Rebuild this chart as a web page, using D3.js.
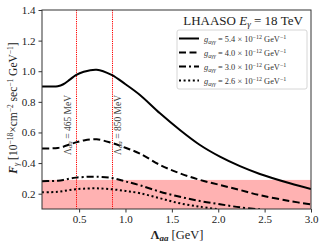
<!DOCTYPE html>
<html lang="en">
<head>
    <meta charset="UTF-8">
    <title>LHAASO flux</title>
    <script src="https://d3js.org/d3.v7.min.js"></script>
    <style>
        body { margin: 0; background: #fff; }
        text { font-family: "Liberation Serif", "DejaVu Serif", serif; }
    </style>
</head>
<body>
    <script>
        // data (Lambda in GeV, flux in 1e-18 units)
        let lambdaSolid = [0.1, 0.2, 0.27, 0.33, 0.4, 0.465, 0.55, 0.69, 0.85, 1.0, 1.156, 1.372, 1.587, 1.803, 2.018, 2.234, 2.449, 2.772, 3.0];
        let fluxSolid   = [0.9, 0.9, 0.902, 0.915, 0.945, 0.975, 0.997, 1.01, 0.976, 0.915, 0.845, 0.725, 0.616, 0.518, 0.442, 0.38, 0.329, 0.268, 0.23];

        let lambdaDashed = [0.1, 0.2, 0.27, 0.33, 0.4, 0.465, 0.55, 0.69, 0.85, 1.0, 1.156, 1.372, 1.587, 1.803, 2.018, 2.234, 2.449, 2.772, 3.0];
        let fluxDashed   = [0.495, 0.496, 0.499, 0.507, 0.522, 0.535, 0.548, 0.555, 0.532, 0.5, 0.462, 0.388, 0.333, 0.29, 0.257, 0.224, 0.19, 0.152, 0.13];

        let lambdaDashDot = [0.1, 0.2, 0.27, 0.33, 0.4, 0.465, 0.55, 0.69, 0.85, 1.0, 1.156, 1.372, 1.587, 1.803, 2.018, 2.234, 2.45];
        let fluxDashDot   = [0.282, 0.283, 0.285, 0.29, 0.299, 0.305, 0.309, 0.311, 0.303, 0.28, 0.255, 0.213, 0.18, 0.152, 0.131, 0.111, 0.098];

        let lambdaDotted = [0.1, 0.2, 0.27, 0.33, 0.4, 0.465, 0.55, 0.69, 0.85, 1.0, 1.156, 1.372, 1.587, 1.803, 2.0];
        let fluxDotted   = [0.209, 0.21, 0.212, 0.217, 0.224, 0.229, 0.233, 0.235, 0.229, 0.218, 0.203, 0.17, 0.137, 0.115, 0.098];

        let couplings = ["5.4", "4.0", "3.0", "2.6"];
        let dashes = [null, "7,3.5", "7,3,2,3", "2,2.6"];
        let markers = [0.465, 0.85];
        let markerLabels = ["465", "850"];
        let bandTop = 0.29;

        let xTicks = [0.5, 1.0, 1.5, 2.0, 2.5, 3.0];
        let yTicks = [0.2, 0.4, 0.6, 0.8, 1.0, 1.2, 1.4];

        const w = 324, h = 247;
        const mLeft = 42, mRight = 311, mTop = 10, mBottom = 209;

        const svg = d3.select('body').append('svg').attr('width', w).attr('height', h);

        const x = d3.scaleLinear().domain([0.1, 3.0]).range([mLeft, mRight]);
        const y = d3.scaleLinear().domain([0.1, 1.4]).range([mBottom, mTop]);

        svg.append('clipPath').attr('id', 'clip')
            .append('rect').attr('x', mLeft).attr('y', mTop)
            .attr('width', mRight - mLeft).attr('height', mBottom - mTop);

        const plot = svg.append('g').attr('clip-path', 'url(#clip)');

        // shaded band
        plot.append('rect')
            .attr('x', x(0.1)).attr('y', y(bandTop))
            .attr('width', x(3.0) - x(0.1)).attr('height', y(0.1) - y(bandTop))
            .style('fill', '#ff0000').style('fill-opacity', 0.3);

        // vertical markers
        plot.selectAll('line.mark').data(markers).enter().append('line')
            .attr('class', 'mark')
            .attr('x1', d => Math.round(x(d)) + 0.5).attr('x2', d => Math.round(x(d)) + 0.5)
            .attr('y1', mTop).attr('y2', mBottom)
            .style('stroke', '#ff0000').style('stroke-width', 1)
            .style('stroke-dasharray', '1.2,1');

        const series = [
            [lambdaSolid, fluxSolid],
            [lambdaDashed, fluxDashed],
            [lambdaDashDot, fluxDashDot],
            [lambdaDotted, fluxDotted]
        ];

        const line = d3.line().x(d => x(d[0])).y(d => y(d[1])).curve(d3.curveCatmullRom.alpha(0.5));

        series.forEach((s, i) => {
            let pts = s[0].map((v, j) => [v, s[1][j]]);
            plot.append('path').datum(pts)
                .attr('d', line)
                .style('fill', 'none').style('stroke', '#000')
                .style('stroke-width', 2)
                .style('stroke-dasharray', dashes[i]);
        });

        // marker labels
        let labX = [x(markers[0]) - 7, x(markers[1]) + 7.5];
        markerLabels.forEach((m, i) => {
            let t = svg.append('text')
                .attr('transform', `translate(${labX[i]},125) rotate(-90)`)
                .attr('text-anchor', 'middle').attr('dominant-baseline', 'middle')
                .style('font-size', '9.5px').style('fill', '#444');
            t.append('tspan').text('Λ');
            t.append('tspan').attr('baseline-shift', '-25%').style('font-size', '7px').style('font-style', 'italic').text('aa');
            t.append('tspan').text(' = ' + m + ' MeV');
        });

        // axes
        let xAxis = svg.append('g').attr('transform', `translate(0,${mBottom})`)
            .call(d3.axisBottom(x).tickValues(xTicks).tickFormat(d3.format('.1f')).tickSize(3.5).tickPadding(3));
        let yAxis = svg.append('g').attr('transform', `translate(${mLeft},0)`)
            .call(d3.axisLeft(y).tickValues(yTicks).tickFormat(d3.format('.1f')).tickSize(3.5).tickPadding(3));
        [xAxis, yAxis].forEach(a => {
            a.select('.domain').remove();
            a.selectAll('text').style('font-size', '11px').style('fill', '#222')
                .style('font-family', '"Liberation Serif", serif');
            a.selectAll('line').style('stroke', '#333');
        });

        svg.append('rect').attr('x', mLeft).attr('y', mTop)
            .attr('width', mRight - mLeft).attr('height', mBottom - mTop)
            .style('fill', 'none').style('stroke', '#333').style('stroke-width', 1);

        // x label
        let xl = svg.append('text').attr('x', 177).attr('y', 239)
            .attr('text-anchor', 'middle').style('font-size', '12.5px').style('fill', '#222');
        xl.append('tspan').style('font-weight', 'bold').text('Λ');
        xl.append('tspan').attr('baseline-shift', '-25%').style('font-size', '9px')
            .style('font-weight', 'bold').style('font-style', 'italic').text('aa');
        xl.append('tspan').text(' [GeV]');

        // y label
        let yl = svg.append('text').attr('transform', 'translate(17,108) rotate(-90)')
            .attr('text-anchor', 'middle').style('font-size', '11.5px').style('fill', '#222');
        yl.append('tspan').style('font-weight', 'bold').style('font-style', 'italic').text('F');
        yl.append('tspan').attr('baseline-shift', '-25%').style('font-size', '8px').style('font-style', 'italic').text('γ');
        yl.append('tspan').text(' [10');
        yl.append('tspan').attr('baseline-shift', 'super').style('font-size', '7.5px').text('−18');
        yl.append('tspan').text('×cm');
        yl.append('tspan').attr('baseline-shift', 'super').style('font-size', '7.5px').text('−2');
        yl.append('tspan').text(' sec');
        yl.append('tspan').attr('baseline-shift', 'super').style('font-size', '7.5px').text('−1');
        yl.append('tspan').text(' GeV');
        yl.append('tspan').attr('baseline-shift', 'super').style('font-size', '7.5px').text('−1');
        yl.append('tspan').text(']');

        // title
        let tt = svg.append('text').attr('x', 303).attr('y', 25)
            .attr('text-anchor', 'end').style('font-size', '13px').style('fill', '#222');
        tt.append('tspan').text('LHAASO ');
        tt.append('tspan').style('font-style', 'italic').text('E');
        tt.append('tspan').attr('baseline-shift', '-25%').style('font-size', '9px').style('font-style', 'italic').text('γ');
        tt.append('tspan').text(' = 18 TeV');

        // legend
        svg.append('rect').attr('x', 177).attr('y', 30).attr('width', 130).attr('height', 59)
            .attr('rx', 2).style('fill', '#fff').style('fill-opacity', 0.8)
            .style('stroke', '#ccc').style('stroke-width', 0.8);

        couplings.forEach((c, i) => {
            let ly = 38.5 + i * 14;
            svg.append('line').attr('x1', 179).attr('x2', 199).attr('y1', ly).attr('y2', ly)
                .style('stroke', '#000').style('stroke-width', 2)
                .style('stroke-dasharray', dashes[i]);
            let t = svg.append('text').attr('x', 204).attr('y', ly + 3)
                .style('font-size', '8.4px').style('fill', '#333');
            t.append('tspan').style('font-style', 'italic').text('g');
            t.append('tspan').attr('baseline-shift', '-25%').style('font-size', '6px').style('font-style', 'italic').text('aγγ');
            t.append('tspan').text(' = ' + c + ' × 10');
            t.append('tspan').attr('baseline-shift', 'super').style('font-size', '6px').text('−12');
            t.append('tspan').text(' GeV');
            t.append('tspan').attr('baseline-shift', 'super').style('font-size', '6px').text('−1');
        });
    </script>
</body>
</html>
